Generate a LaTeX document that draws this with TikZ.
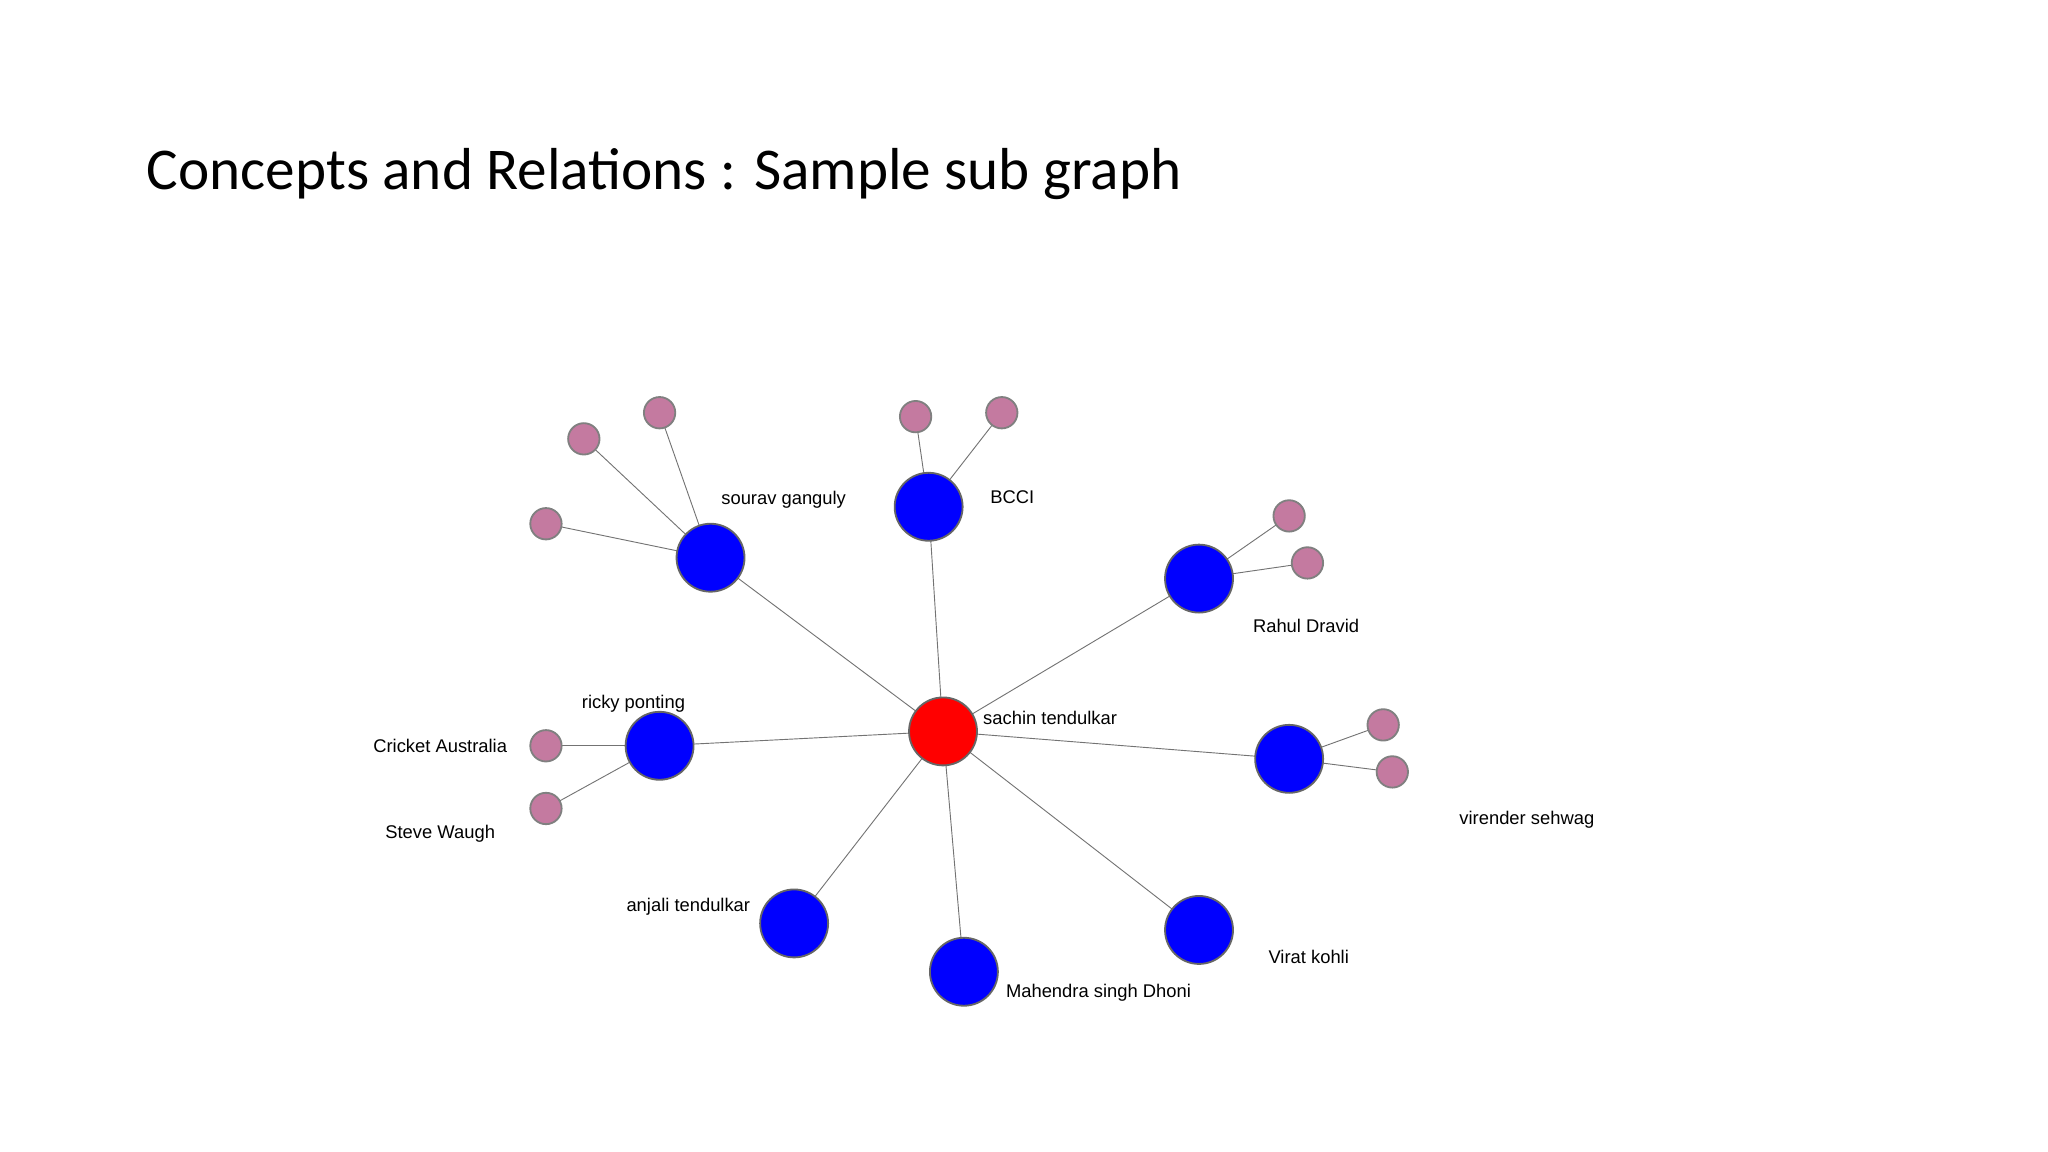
\documentclass[tikz,border=0pt]{standalone}
\usepackage{fontspec}
\setmainfont{Liberation Sans}
\newfontfamily\titlefont{Carlito}
\definecolor{leafpink}{RGB}{196,122,160}
\begin{document}
\begin{tikzpicture}[x=0.01cm,y=-0.01cm,
  hub/.style={circle,fill=red,draw=black!60,thin,minimum size=0.52cm,inner sep=0pt},
  big/.style={circle,fill=blue,draw=black!60,thin,minimum size=0.52cm,inner sep=0pt},
  leaf/.style={circle,fill=leafpink,draw=black!50,thin,minimum size=0.24cm,inner sep=0pt},
  lbl/.style={font=\fontsize{4}{5}\selectfont},
  link/.style={draw=black!55,very thin}]
\useasboundingbox (0,0) rectangle (1568,882);
\node[anchor=west,font=\titlefont\fontsize{12.9}{15}\selectfont] (title) at (100,133) {Concepts and Relations : Sample sub graph};

\node (sachin) at (722,560) {};
\node (sourav) at (544,427) {};
\node (bcci) at (711,388) {};
\node (rahul) at (918,443) {};
\node (virender) at (987,581) {};
\node (virat) at (918,712) {};
\node (dhoni) at (738,744) {};
\node (anjali) at (608,707) {};
\node (ricky) at (505,571) {};

\node (s1) at (447,336) {};
\node (s2) at (505,316) {};
\node (s3) at (418,401) {};
\node (b1) at (701,319) {};
\node (b2) at (767,316) {};
\node (r1) at (987,395) {};
\node (r2) at (1001,431) {};
\node (v1) at (1059,555) {};
\node (v2) at (1066,591) {};
\node (ca) at (418,571) {};
\node (sw) at (418,619) {};

\foreach \a/\b in {sachin/sourav,sachin/bcci,sachin/rahul,sachin/virender,sachin/virat,sachin/dhoni,sachin/anjali,sachin/ricky,
  sourav/s1,sourav/s2,sourav/s3,bcci/b1,bcci/b2,rahul/r1,rahul/r2,virender/v1,virender/v2,ricky/ca,ricky/sw}
  \path[link] (\a.center) -- (\b.center);

\foreach \n in {s1,s2,s3,b1,b2,r1,r2,v1,v2,ca,sw}
  \fill[leaf] (\n) circle (0.12cm);
\foreach \n in {sourav,bcci,rahul,virender,virat,dhoni,anjali,ricky}
  \fill[big] (\n) circle (0.26cm);
\fill[hub] (sachin) circle (0.26cm);

\node[lbl] (lsachin) at (804,550) {sachin tendulkar};
\node[lbl] (lsourav) at (600,383) {sourav ganguly};
\node[lbl] (lbcci) at (775,381) {BCCI};
\node[lbl] (lrahul) at (1000,479) {Rahul Dravid};
\node[lbl] (lricky) at (485,539) {ricky ponting};
\node[lbl] (lca) at (337,571) {Cricket Australia};
\node[lbl] (lsw) at (337,638) {Steve Waugh};
\node[lbl] (lvirender) at (1169,628) {virender sehwag};
\node[lbl] (lanjali) at (527,694) {anjali tendulkar};
\node[lbl] (ldhoni) at (841,760) {Mahendra singh Dhoni};
\node[lbl] (lvirat) at (1002,733) {Virat kohli};
\end{tikzpicture}
\end{document}
